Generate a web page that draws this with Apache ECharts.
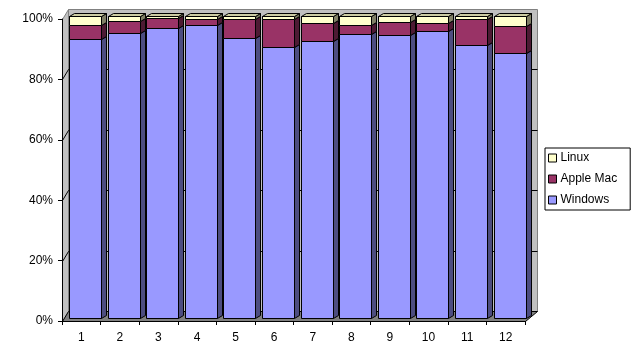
<!DOCTYPE html>
<html>
<head>
<meta charset="utf-8">
<script src="https://cdn.jsdelivr.net/npm/echarts@6/dist/echarts.min.js"></script>
<style>html,body{margin:0;padding:0;background:#fff;}#c{width:633px;height:355px;}</style>
</head>
<body>
<div id="c"></div>
<script>
const categories = ['1','2','3','4','5','6','7','8','9','10','11','12'];
const windows = [92.3, 94.3, 96.1, 96.9, 92.8, 89.8, 91.8, 93.9, 93.8, 94.9, 90.3, 87.6];
const appleMac = [4.6, 4.1, 3.3, 2.2, 6.1, 9.1, 6.0, 3.2, 4.3, 2.9, 8.6, 9.2];
const linux = [3.1, 1.6, 0.6, 0.9, 1.1, 1.1, 2.2, 2.9, 1.9, 2.2, 1.1, 3.2];
const yTicks = [0, 20, 40, 60, 80, 100];

const FONT = "'Liberation Sans', Arial, sans-serif";
const DX = 5, DY = -3, FRONT_Y = -3;
const BACK_DY = -10, BACK_DX_L = 6, BACK_DX_R = 12;

function buildData(vals, bases) {
  return vals.map((v, i) => [i, bases[i], bases[i] + v, v]);
}
const zeros = windows.map(() => 0);
const base2 = windows.slice();
const base3 = windows.map((w, i) => w + appleMac[i]);

function segRender(colors, isTop) {
  return function (params, api) {
    const i = api.value(0);
    const p0 = api.coord([i, api.value(1)]);
    const p1 = api.coord([i, api.value(2)]);
    const bw = api.size([1, 0])[0];
    const x0 = Math.round(p0[0] - bw * 0.315) + 0.5;
    const fw = Math.round(bw * 0.83);
    const x1 = x0 + fw;
    const yb = Math.round(p0[1] + FRONT_Y) + 0.5;
    const yt = Math.round(p1[1] + FRONT_Y) + 0.5;
    const st = { stroke: '#000', lineWidth: 1 };
    const children = [
      { type: 'polygon', shape: { points: [[x1, yt], [x1 + DX, yt + DY], [x1 + DX, yb + DY], [x1, yb]] },
        style: Object.assign({ fill: colors.side }, st) },
      { type: 'polygon', shape: { points: [[x0, yt], [x1, yt], [x1, yb], [x0, yb]] },
        style: Object.assign({ fill: colors.front }, st) }
    ];
    if (isTop) {
      children.push({ type: 'polygon', shape: { points: [[x0, yt], [x0 + DX, yt + DY], [x1 + DX, yt + DY], [x1, yt]] },
        style: Object.assign({ fill: colors.top }, st) });
    }
    return { type: 'group', children };
  };
}

function wallRender(params, api) {
  const cs = params.coordSys;
  const L = cs.x + 0.5, R = cs.x + cs.width + 0.5, T = cs.y + 0.5, B = cs.y + cs.height + 0.5;
  const children = [];
  children.push({ type: 'polygon', shape: { points: [[L + BACK_DX_L, T + BACK_DY], [R + BACK_DX_R, T + BACK_DY], [R + BACK_DX_R, B + BACK_DY], [L + BACK_DX_L, B + BACK_DY]] },
    style: { fill: '#c0c0c0', stroke: '#808080', lineWidth: 1 } });
  children.push({ type: 'polygon', shape: { points: [[L, T], [L + BACK_DX_L, T + BACK_DY], [L + BACK_DX_L, B + BACK_DY], [L, B]] },
    style: { fill: '#c0c0c0', stroke: '#808080', lineWidth: 1 } });
  children.push({ type: 'polygon', shape: { points: [[L, B], [R, B], [R + BACK_DX_R, B + BACK_DY], [L + BACK_DX_L, B + BACK_DY]] },
    style: { fill: '#808080', stroke: '#000', lineWidth: 1 } });
  yTicks.slice(1, -1).forEach(v => {
    const y = Math.round(api.coord([0, v])[1]) + 0.5;
    children.push({ type: 'polyline', shape: { points: [[L, y], [L + BACK_DX_L, y + BACK_DY], [R + BACK_DX_R, y + BACK_DY]] },
      style: { fill: null, stroke: '#000', lineWidth: 1 } });
  });
  return { type: 'group', children };
}

const chart = echarts.init(document.getElementById('c'), null, { renderer: 'canvas' });
chart.setOption({
  animation: false,
  backgroundColor: '#fff',
  textStyle: { fontFamily: FONT },
  grid: { left: 62, right: 108, top: 19, bottom: 34, containLabel: false },
  legend: {
    data: ['Linux', 'Apple Mac', 'Windows'],
    orient: 'vertical',
    left: 545, top: 148,
    borderColor: '#000', borderWidth: 1,
    padding: [4, 13, 4, 3],
    itemWidth: 8, itemHeight: 8, itemGap: 9,
    icon: 'rect',
    itemStyle: { borderColor: '#000', borderWidth: 1 },
    textStyle: { fontFamily: FONT, fontSize: 12, color: '#000', padding: [0, 0, 0, -1] }
  },
  xAxis: {
    type: 'category', data: categories, z: 10,
    axisLine: { lineStyle: { color: '#000', width: 1 } },
    axisTick: { show: true, length: 4, lineStyle: { color: '#000' } },
    axisLabel: { color: '#000', fontSize: 12, fontFamily: FONT, margin: 11 },
    splitLine: { show: false }
  },
  yAxis: {
    type: 'value', min: 0, max: 100, interval: 20, z: 10,
    axisLine: { show: true, lineStyle: { color: '#000', width: 1 } },
    axisTick: { show: true, length: 4, lineStyle: { color: '#000' } },
    axisLabel: { color: '#000', fontSize: 12, fontFamily: FONT, margin: 9, formatter: '{value}%' },
    splitLine: { show: false }
  },
  series: [
    { type: 'custom', name: '_walls', z: 1, silent: true, data: [[0, 0]], renderItem: wallRender, encode: { x: 0, y: 1 } },
    { type: 'custom', name: 'Windows', z: 3, itemStyle: { color: '#9999ff' }, data: buildData(windows, zeros),
      encode: { x: 0, y: [1, 2] }, renderItem: segRender({ front: '#9999ff', side: '#4d4d80', top: '#7a7acc' }, false) },
    { type: 'custom', name: 'Apple Mac', z: 3, itemStyle: { color: '#993366' }, data: buildData(appleMac, base2),
      encode: { x: 0, y: [1, 2] }, renderItem: segRender({ front: '#993366', side: '#4d1a33', top: '#7a2952' }, false) },
    { type: 'custom', name: 'Linux', z: 3, itemStyle: { color: '#ffffcc' }, data: buildData(linux, base3),
      encode: { x: 0, y: [1, 2] }, renderItem: segRender({ front: '#ffffcc', side: '#808066', top: '#cccca3' }, true) }
  ]
});
</script>
</body>
</html>
